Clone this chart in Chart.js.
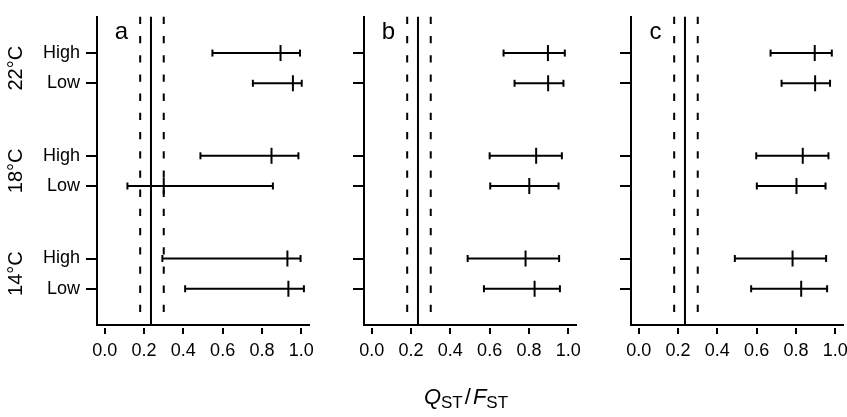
<!DOCTYPE html>
<html>
<head>
<meta charset="utf-8">
<script src="https://cdn.jsdelivr.net/npm/chart.js@4"></script>
<style>
  html, body { margin: 0; padding: 0; background: #fff; }
  body { width: 847px; height: 417px; position: relative; overflow: hidden; font-family: "Liberation Sans", Arial, sans-serif; }
  canvas { position: absolute; top: 0; }
  #xtitle { position: absolute; left: 366px; width: 200px; top: 386px; text-align: center; font-size: 22px; line-height: 22px; color: #000; }
  #xtitle i { font-style: italic; }
  #xtitle span { font-size: 17px; position: relative; top: 4px; }
  #xtitle b { font-weight: normal; margin: 0 2px; }
</style>
</head>
<body>
<canvas id="panelA" width="324" height="417" style="left:0px"></canvas>
<canvas id="panelB" width="271" height="417" style="left:320px"></canvas>
<canvas id="panelC" width="268" height="417" style="left:590px"></canvas>
<div id="xtitle"><i>Q</i><span>ST</span><b>/</b><i>F</i><span>ST</span></div>
<script>
// rows top to bottom: 22°C High, 22°C Low, 18°C High, 18°C Low, 14°C High, 14°C Low
const rowLabels = ["High", "Low", "High", "Low", "High", "Low"];
const rowPos = [8.8, 7.8, 5.4, 4.4, 2, 1];
const tempLabels = ["22°C", "18°C", "14°C"];
const xTicks = [0, 0.2, 0.4, 0.6, 0.8, 1.0];

// F_ST mean and interval
const fstMean = 0.235;
const fstLow = 0.18;
const fstHigh = 0.30;

// Q_ST estimates and intervals per panel
const estA = [0.895, 0.958, 0.849, 0.300, 0.930, 0.935];
const loA  = [0.548, 0.754, 0.487, 0.115, 0.293, 0.409];
const hiA  = [0.994, 1.003, 0.986, 0.856, 0.997, 1.014];

const estB = [0.897, 0.898, 0.837, 0.802, 0.783, 0.829];
const loB  = [0.671, 0.727, 0.600, 0.603, 0.488, 0.571];
const hiB  = [0.983, 0.976, 0.968, 0.951, 0.954, 0.958];

const estC = [0.896, 0.898, 0.835, 0.803, 0.783, 0.827];
const loC  = [0.671, 0.727, 0.598, 0.601, 0.489, 0.572];
const hiC  = [0.983, 0.974, 0.966, 0.951, 0.954, 0.959];

const Y_MIN = -0.2, Y_MAX = 10;

Chart.defaults.font.family = '"Liberation Sans", Arial, sans-serif';
Chart.defaults.color = "#000";

function vline(x, dashed) {
  // drawn top to bottom so the dash pattern starts at the top
  return {
    type: "line",
    data: [{ x: x, y: Y_MAX }, { x: x, y: Y_MIN }],
    borderColor: "#000",
    borderWidth: 2,
    borderDash: dashed ? [7.3, 11.9] : [],
    pointRadius: 0,
    clip: false
  };
}

function buildDatasets(est, lo, hi) {
  const sets = [vline(fstLow, true), vline(fstHigh, true), vline(fstMean, false)];
  for (let i = 0; i < rowPos.length; i++) {
    sets.push({
      type: "line",
      data: [{ x: lo[i], y: rowPos[i] }, { x: hi[i], y: rowPos[i] }],
      borderColor: "#000",
      borderWidth: 2,
      pointStyle: "line",
      rotation: 90,
      pointRadius: 3.5,
      pointBorderWidth: 2,
      pointBorderColor: "#000",
      clip: false
    });
  }
  sets.push({
    type: "scatter",
    data: est.map((v, i) => ({ x: v, y: rowPos[i] })),
    pointStyle: "line",
    rotation: 90,
    pointRadius: 8,
    pointBorderWidth: 2,
    pointBorderColor: "#000",
    clip: false
  });
  return sets;
}

function makePanel(id, letter, est, lo, hi, yWidth, showLabels) {
  const letterPlugin = {
    id: "letter" + letter,
    afterDraw(chart) {
      const c = chart.ctx;
      const xs = chart.scales.x, ys = chart.scales.y;
      c.save();
      c.fillStyle = "#000";
      c.font = '24px "Liberation Sans", Arial, sans-serif';
      c.textAlign = "center";
      c.textBaseline = "middle";
      c.fillText(letter, xs.getPixelForValue(0.085), ys.getPixelForValue(9.5));
      if (showLabels) {
        c.font = '20px "Liberation Sans", Arial, sans-serif';
        for (let g = 0; g < tempLabels.length; g++) {
          const yc = ys.getPixelForValue((rowPos[2 * g] + rowPos[2 * g + 1]) / 2);
          c.save();
          c.translate(16, yc);
          c.rotate(-Math.PI / 2);
          c.fillText(tempLabels[g], 0, 0);
          c.restore();
        }
      }
      c.restore();
    }
  };

  return new Chart(document.getElementById(id), {
    type: "scatter",
    data: { datasets: buildDatasets(est, lo, hi) },
    options: {
      responsive: false,
      animation: false,
      devicePixelRatio: 1,
      layout: { padding: { top: 13, right: 15, bottom: 0, left: 0 } },
      plugins: { legend: { display: false }, tooltip: { enabled: false } },
      events: [],
      scales: {
        x: {
          type: "linear",
          min: -0.04,
          max: 1.04,
          afterBuildTicks: (s) => { s.ticks = xTicks.map(v => ({ value: v })); },
          afterFit: (s) => { s.height = 92; },
          border: { color: "#000", width: 2 },
          grid: {
            drawOnChartArea: false,
            drawTicks: true,
            tickLength: 9,
            color: "#000",
            lineWidth: 2,
            tickBorderDash: [0, 2, 7, 50]
          },
          ticks: {
            font: { size: 18 },
            color: "#000",
            padding: 6,
            maxRotation: 0,
            callback: (v) => Number(v).toFixed(1)
          }
        },
        y: {
          type: "linear",
          min: Y_MIN,
          max: Y_MAX,
          afterBuildTicks: (s) => { s.ticks = rowPos.map(v => ({ value: v })); },
          afterFit: (s) => { s.width = yWidth; },
          border: { color: "#000", width: 2 },
          grid: {
            drawOnChartArea: false,
            drawTicks: true,
            tickLength: 11,
            color: "#000",
            lineWidth: 2
          },
          ticks: {
            font: { size: 18 },
            color: "#000",
            padding: 6,
            callback: (v) => {
              if (!showLabels) return "";
              const i = rowPos.indexOf(v);
              return i >= 0 ? rowLabels[i] : "";
            }
          }
        }
      }
    },
    plugins: [letterPlugin]
  });
}

makePanel("panelA", "a", estA, loA, hiA, 97, true);
makePanel("panelB", "b", estB, loB, hiB, 44, false);
makePanel("panelC", "c", estC, loC, hiC, 41, false);
</script>
</body>
</html>
